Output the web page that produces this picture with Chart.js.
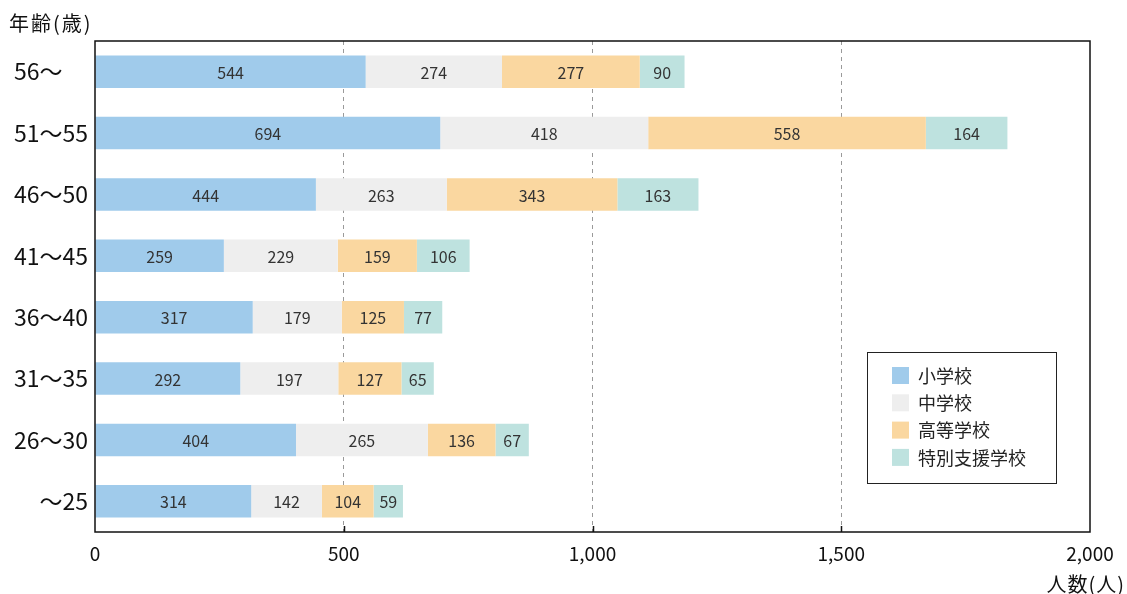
<!DOCTYPE html>
<html>
<head>
<meta charset="utf-8">
<script src="https://cdn.jsdelivr.net/npm/chart.js@4"></script>
<style>
  html, body { margin: 0; padding: 0; background: #fff; }
  #wrap { position: relative; width: 1127px; height: 594px; }
</style>
</head>
<body>
<div id="wrap"><canvas id="chart" width="1127" height="594"></canvas></div>
<script>
const FONT = '"Noto Sans CJK JP", "Noto Sans", sans-serif';

// age groups, top to bottom
const ageGroups = ['56～', '51～55', '46～50', '41～45', '36～40', '31～35', '26～30', '～25'];
const seriesNames = ['小学校', '中学校', '高等学校', '特別支援学校'];
const elementary = [544, 694, 444, 259, 317, 292, 404, 314];
const juniorHigh = [274, 418, 263, 229, 179, 197, 265, 142];
const highSchool = [277, 558, 343, 159, 125, 127, 136, 104];
const specialNeeds = [90, 164, 163, 106, 77, 65, 67, 59];
const seriesColors = ['#a0cbeb', '#eeeeee', '#fad7a0', '#bee2df'];
const xTicks = [0, 500, 1000, 1500, 2000];

const seriesValues = [elementary, juniorHigh, highSchool, specialNeeds];

// values written inside each segment
const barLabels = {
    id: 'barLabels',
    afterDatasetsDraw(chart) {
        const ctx = chart.ctx;
        ctx.save();
        ctx.font = '16px ' + FONT;
        ctx.fillStyle = '#333';
        ctx.textAlign = 'center';
        ctx.textBaseline = 'middle';
        chart.data.datasets.forEach((ds, i) => {
            chart.getDatasetMeta(i).data.forEach((bar, j) => {
                const cx = (bar.x + bar.base) / 2;
                ctx.fillText(String(ds.data[j]), cx, bar.y + 1);
            });
        });
        ctx.restore();
    }
};

// frame, inner ticks, axis titles and boxed legend
const frame = {
    id: 'frame',
    afterDraw(chart) {
        const ctx = chart.ctx;
        const a = chart.chartArea;
        const xs = chart.scales.x;
        ctx.save();
        ctx.strokeStyle = '#111';
        ctx.lineWidth = 1.5;
        ctx.strokeRect(a.left, a.top, a.right - a.left, a.bottom - a.top);

        xTicks.slice(1, -1).forEach(v => {
            const px = Math.round(xs.getPixelForValue(v)) + 0.5;
            ctx.beginPath();
            ctx.moveTo(px, a.bottom);
            ctx.lineTo(px, a.bottom - 6);
            ctx.stroke();
        });

        ctx.fillStyle = '#111';
        ctx.font = '20px ' + FONT;
        ctx.textBaseline = 'middle';
        ctx.textAlign = 'left';
        ctx.letterSpacing = '2px';
        ctx.fillText('年齢(歳)', 9, 23);
        ctx.textAlign = 'right';
        ctx.letterSpacing = '1px';
        ctx.fillText('人数(人)', 1125, 584);
        ctx.letterSpacing = '0px';

        // legend
        const lx = 867, ly = 352, lw = 189, lh = 131;
        ctx.fillStyle = '#fff';
        ctx.fillRect(lx, ly, lw, lh);
        ctx.strokeStyle = '#222';
        ctx.lineWidth = 1;
        ctx.strokeRect(lx + 0.5, ly + 0.5, lw, lh);
        ctx.font = '18px ' + FONT;
        ctx.textAlign = 'left';
        seriesNames.forEach((name, i) => {
            const y = 375 + i * 27.3;
            ctx.fillStyle = seriesColors[i];
            ctx.fillRect(892, y - 8, 17, 17);
            ctx.fillStyle = '#222';
            ctx.fillText(name, 918, y + 1);
        });
        ctx.restore();
    }
};

new Chart(document.getElementById('chart'), {
    type: 'bar',
    data: {
        labels: ageGroups,
        datasets: seriesNames.map((name, i) => ({
            label: name,
            data: seriesValues[i],
            backgroundColor: seriesColors[i],
            borderWidth: 0,
            barPercentage: 0.9,
            categoryPercentage: 0.59
        }))
    },
    options: {
        indexAxis: 'y',
        responsive: false,
        animation: false,
        layout: { padding: { top: 41, right: 37, left: 0, bottom: 0 } },
        plugins: {
            legend: { display: false },
            tooltip: { enabled: false }
        },
        scales: {
            x: {
                stacked: true,
                min: 0,
                max: 2000,
                afterBuildTicks: s => { s.ticks = xTicks.map(v => ({ value: v })); },
                afterFit: s => { s.height = 62; },
                border: { display: false, dash: [4, 4] },
                grid: {
                    drawTicks: false,
                    color: c => (c.tick && (c.tick.value === 0 || c.tick.value === 2000)) ? 'transparent' : '#9a9a9a',
                    lineWidth: 1
                },
                ticks: {
                    padding: 10,
                    color: '#111',
                    font: { size: 19, family: FONT },
                    callback: v => v.toLocaleString('en-US')
                }
            },
            y: {
                stacked: true,
                afterFit: s => { s.width = 95; },
                border: { display: false },
                grid: { display: false, drawTicks: false },
                ticks: {
                    padding: 7,
                    color: '#111',
                    font: { size: 23, family: FONT },
                    // open-ended top group keeps its tilde lined up with the others
                    callback: function (v) {
                        const l = this.getLabelForValue(v);
                        return l.endsWith('～') ? l + '\u2007\u2007' : l;
                    }
                }
            }
        }
    },
    plugins: [barLabels, frame]
});
</script>
</body>
</html>
